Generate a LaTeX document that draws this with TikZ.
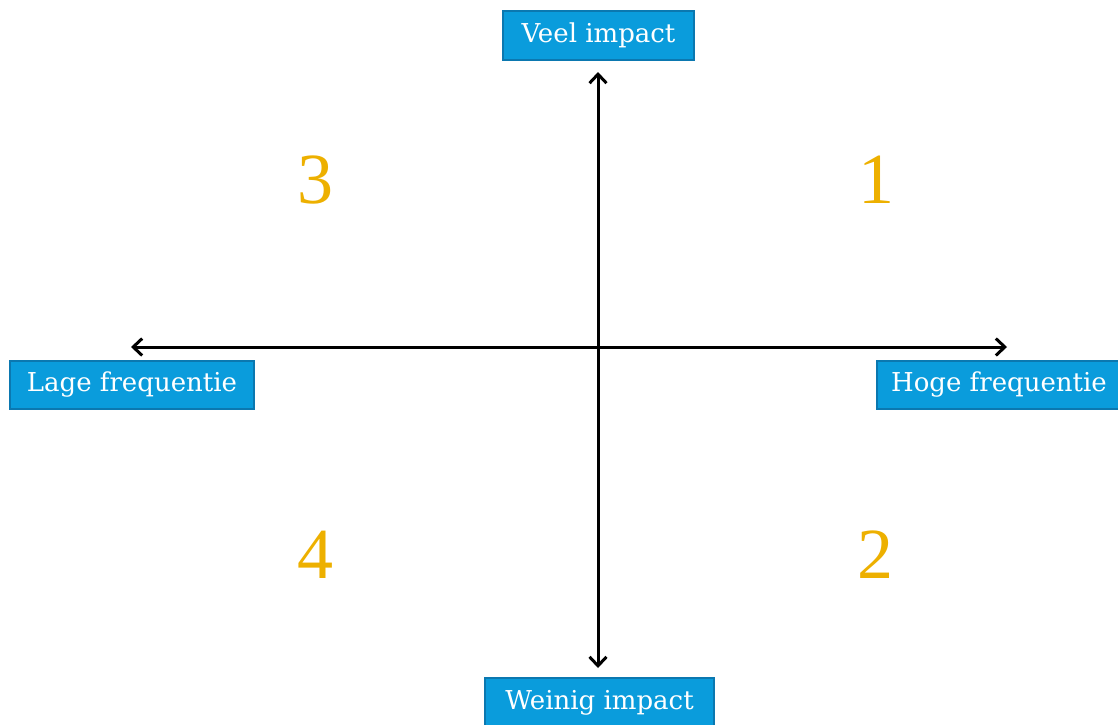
\documentclass[tikz,border=0pt]{standalone}
\usepackage{fontspec}
\setmainfont{DejaVu Serif}
\newfontfamily\numfont{Liberation Serif}
\usetikzlibrary{arrows.meta}
\definecolor{boxblue}{HTML}{0A9CDC}
\definecolor{boxedge}{HTML}{0B78B0}
\definecolor{gold}{HTML}{EDB000}
\begin{document}
\begin{tikzpicture}[x=1pt,y=-1pt,
  lbl/.style={draw=boxedge,line width=2.4pt,fill=boxblue,text=white,inner sep=0pt,
    font=\fontsize{26}{30}\selectfont,anchor=center},
  num/.style={text=gold,font=\numfont\fontsize{72}{80}\selectfont,anchor=center},
  axis/.style={line width=3pt,{Straight Barb[length=9pt,width=17pt,line width=3pt]}-{Straight Barb[length=9pt,width=17pt,line width=3pt]}}]
\useasboundingbox (0,0) rectangle (1118,724);
\node[lbl,minimum width=191pt,minimum height=49pt] (veel) at (598.5,35.5) {Veel impact};
\node[lbl,minimum width=244pt,minimum height=48pt] (lage) at (132,385) {Lage frequentie};
\node[lbl,minimum width=244pt,minimum height=48pt] (hoge) at (999,385) {Hoge frequentie};
\node[lbl,minimum width=229pt,minimum height=50pt] (weinig) at (599.5,703) {Weinig impact};
\coordinate (top) at (598,72);
\coordinate (bot) at (598,668);
\coordinate (lft) at (131,347);
\coordinate (rgt) at (1007,347);
\draw[axis] (top) -- (bot);
\draw[axis] (lft) -- (rgt);
\node[num] (n3) at (315,180) {3};
\node[num] (n1) at (876,180) {1};
\node[num] (n4) at (315,555) {4};
\node[num] (n2) at (875,555) {2};
\end{tikzpicture}
\end{document}
